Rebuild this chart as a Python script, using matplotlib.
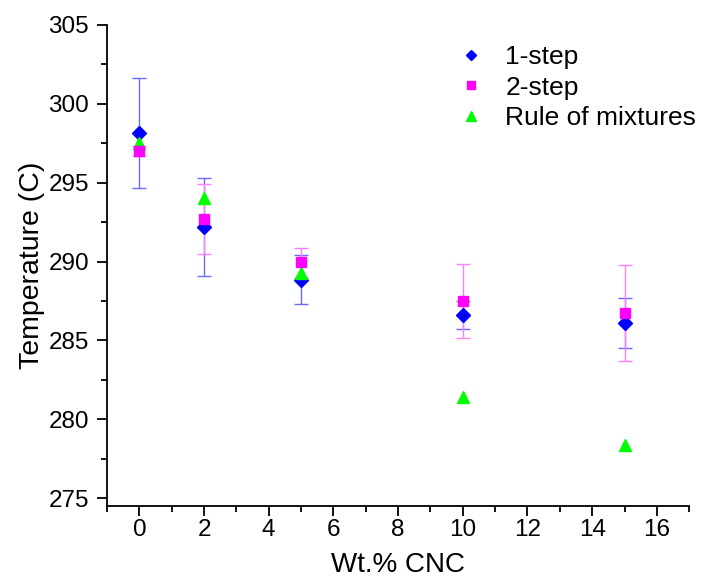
import matplotlib.pyplot as plt
from matplotlib.ticker import MultipleLocator

plt.rcParams['font.family'] = ['Liberation Sans', 'DejaVu Sans']

# data
wt = [0, 2, 5, 10, 15]
one_step = [298.15, 292.2, 288.85, 286.6, 286.1]
one_step_err = [3.5, 3.1, 1.55, 0.9, 1.6]
two_step = [297.0, 292.7, 289.95, 287.5, 286.75]
two_step_err = [0.3, 2.2, 0.9, 2.35, 3.05]
rule_mix = [297.5, 294.05, 289.25, 281.4, 278.4]

fig = plt.figure(figsize=(7.04, 5.79), dpi=100)
ax = fig.add_axes([0.152, 0.126, 0.827, 0.831])

ax.errorbar(wt, one_step, yerr=one_step_err, fmt='none', ecolor='#6a6aff',
            elinewidth=1, capsize=5, capthick=1, zorder=2)
ax.errorbar(wt, two_step, yerr=two_step_err, fmt='none', ecolor='#ff80ff',
            elinewidth=1, capsize=5, capthick=1, zorder=2)
ax.plot(wt, one_step, 'D', color='#0000ff', ms=7, mec='#0000ff',
        label='1-step', zorder=3)
ax.plot(wt, two_step, 's', color='#ff00ff', ms=7.5, mec='#ff00ff',
        label='2-step', zorder=4)
ax.plot(wt, rule_mix, '^', color='#00ff00', ms=9, mec='#00ff00',
        label='Rule of mixtures', zorder=3)

ax.set_xlim(-1, 17)
ax.set_ylim(274.5, 305)
ax.xaxis.set_major_locator(MultipleLocator(2))
ax.xaxis.set_minor_locator(MultipleLocator(1))
ax.yaxis.set_major_locator(MultipleLocator(5))
ax.yaxis.set_minor_locator(MultipleLocator(2.5))
ax.spines['top'].set_visible(False)
ax.spines['right'].set_visible(False)
ax.tick_params(which='major', length=7, width=1.3, labelsize=17.5, pad=6)
ax.tick_params(which='minor', length=4, width=1.3)
ax.tick_params(axis='x', which='major', pad=2)
for s in ['left', 'bottom']:
    ax.spines[s].set_linewidth(1.3)

ax.set_xlabel('Wt.% CNC', fontsize=20, labelpad=8)
ax.set_ylabel('Temperature (C)', fontsize=20.5, labelpad=2)

ax.legend(loc='upper right', frameon=False, fontsize=19, handletextpad=0.8,
          labelspacing=0.25, borderaxespad=0.0, markerscale=0.8,
          handlelength=1.0, bbox_to_anchor=(1.03, 0.98))

fig.savefig('out.png', dpi=100)
